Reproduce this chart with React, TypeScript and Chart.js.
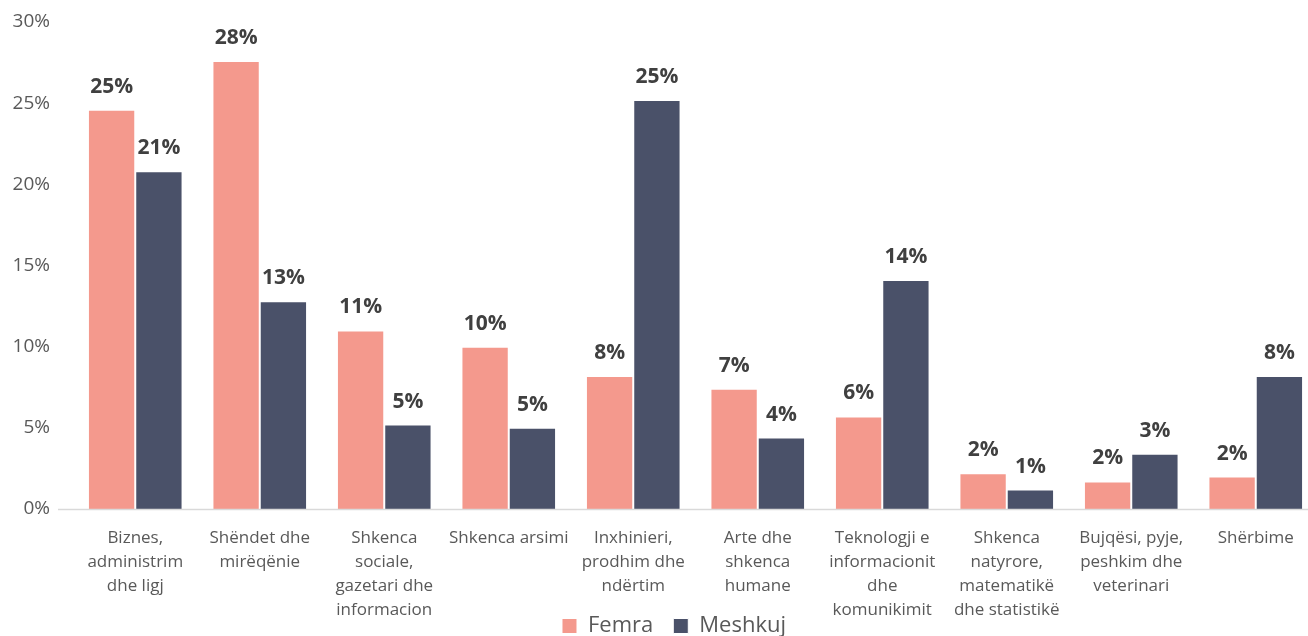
import React, { useEffect, useRef } from "react";
import { Chart, registerables } from "chart.js";

Chart.register(...registerables);

const categories: string[][] = [
  ["Biznes,", "administrim", "dhe ligj"],
  ["Shëndet dhe", "mirëqënie"],
  ["Shkenca", "sociale,", "gazetari dhe", "informacion"],
  ["Shkenca arsimi"],
  ["Inxhinieri,", "prodhim dhe", "ndërtim"],
  ["Arte dhe", "shkenca", "humane"],
  ["Teknologji e", "informacionit", "dhe", "komunikimit"],
  ["Shkenca", "natyrore,", "matematikë", "dhe statistikë"],
  ["Bujqësi, pyje,", "peshkim dhe", "veterinari"],
  ["Shërbime"],
];

const femra: number[] = [24.6, 27.6, 11.0, 10.0, 8.2, 7.4, 5.7, 2.2, 1.7, 2.0];
const meshkuj: number[] = [20.8, 12.8, 5.2, 5.0, 25.2, 4.4, 14.1, 1.2, 3.4, 8.2];

const yTicks: number[] = [0, 5, 10, 15, 20, 25, 30];

const FONT = "'Open Sans', 'DejaVu Sans', sans-serif";

const labelPlugin = {
  id: "barLabels",
  afterDatasetsDraw(chart: any) {
    const ctx = chart.ctx;
    ctx.save();
    ctx.font = `bold 21px ${FONT}`;
    ctx.fillStyle = "#404040";
    ctx.textAlign = "center";
    ctx.textBaseline = "middle";
    chart.data.datasets.forEach((ds: any, di: number) => {
      const meta = chart.getDatasetMeta(di);
      meta.data.forEach((bar: any, i: number) => {
        const v = ds.data[i];
        ctx.fillText(Math.round(v) + "%", bar.x, bar.y - 23);
      });
    });
    ctx.restore();
  },
};

const baselinePlugin = {
  id: "baseline",
  afterDatasetsDraw(chart: any) {
    const ctx = chart.ctx;
    const y = chart.scales.y.getPixelForValue(0);
    ctx.save();
    ctx.strokeStyle = "#d9d9d9";
    ctx.lineWidth = 1.5;
    ctx.beginPath();
    ctx.moveTo(58, y + 0.5);
    ctx.lineTo(chart.width, y + 0.5);
    ctx.stroke();
    ctx.restore();
  },
};

// let x labels overflow into the legend band, and place the legend like the reference
const layoutPlugin = {
  id: "layoutTweak",
  afterLayout(chart: any) {
    const x = chart.scales.x;
    x.bottom = chart.height;
    const lg = chart.legend;
    if (lg) {
      const dx = 15;
      const targetCenter = 626;
      const pad = lg.options.labels.padding;
      const currentCenter = lg.top + pad + 11;
      const dy = targetCenter - currentCenter;
      lg.left += dx;
      lg.right += dx;
      lg.top += dy;
      lg.bottom += dy;
    }
  },
};

export default function App() {
  const ref = useRef<HTMLCanvasElement | null>(null);

  useEffect(() => {
    if (!ref.current) return;
    const chart = new Chart(ref.current, {
      type: "bar",
      data: {
        labels: categories,
        datasets: [
          {
            label: "Femra",
            data: femra,
            backgroundColor: "#F4998D",
            borderColor: "#ffffff",
            borderWidth: 1,
            barPercentage: 1,
            categoryPercentage: 0.76,
          },
          {
            label: "Meshkuj",
            data: meshkuj,
            backgroundColor: "#4A5169",
            borderColor: "#ffffff",
            borderWidth: 1,
            barPercentage: 1,
            categoryPercentage: 0.76,
          },
        ],
      },
      options: {
        responsive: false,
        animation: false,
        layout: { padding: { top: 0, right: 4, left: 0, bottom: 0 } },
        scales: {
          x: {
            grid: { display: false },
            border: { display: false },
            ticks: {
              color: "#595959",
              font: { family: FONT, size: 17, lineHeight: "24px" },
              padding: 9,
              maxRotation: 0,
              autoSkip: false,
            },
            afterFit: (s: any) => {
              s.height = 75;
            },
          },
          y: {
            min: 0,
            max: 30,
            grid: { display: false },
            border: { display: false },
            afterBuildTicks: (s: any) => {
              s.ticks = yTicks.map((v) => ({ value: v }));
            },
            ticks: {
              color: "#595959",
              font: { family: FONT, size: 19 },
              padding: 15,
              callback: (v: any) => v + "%",
            },
            afterFit: (s: any) => {
              s.width = 73;
              s.paddingTop = 22;
              s.paddingBottom = 0;
            },
          },
        },
        plugins: {
          legend: {
            position: "bottom",
            labels: {
              color: "#595959",
              font: { family: FONT, size: 22 },
              boxWidth: 15,
              boxHeight: 15,
              padding: 20,
              useBorderRadius: false,
            },
          },
          tooltip: { enabled: false },
        },
      },
      plugins: [labelPlugin, baselinePlugin, layoutPlugin],
    });
    return () => chart.destroy();
  }, []);

  return (
    <div
      style={{
        position: "absolute",
        left: 0,
        top: 0,
        width: 1308,
        height: 636,
        overflow: "hidden",
        background: "#fff",
      }}
    >
      <canvas ref={ref} width={1322} height={636} />
    </div>
  );
}
